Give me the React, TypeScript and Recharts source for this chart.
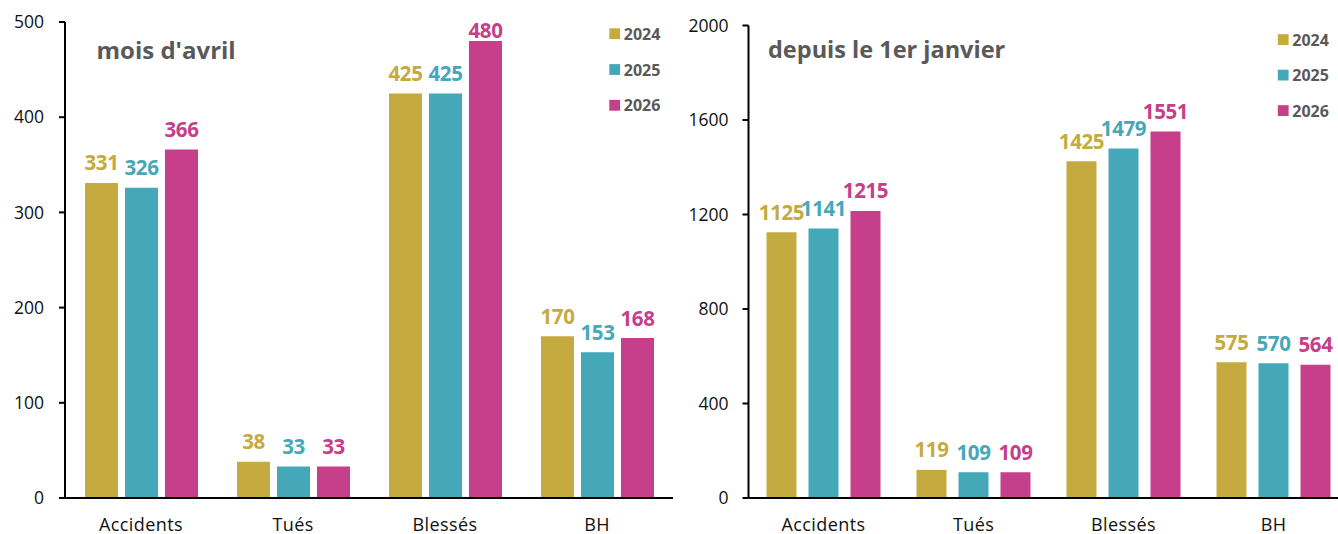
import React from 'react';
import { BarChart, Bar, XAxis, YAxis, LabelList } from 'recharts';

const categories = ['Accidents', 'Tués', 'Blessés', 'BH'];
const years = ['2024', '2025', '2026'];
const colors = ['#C5AB3F', '#45A8B9', '#C53F8B'];

const avril2024 = [331, 38, 425, 170];
const avril2025 = [326, 33, 425, 153];
const avril2026 = [366, 33, 480, 168];

const janvier2024 = [1125, 119, 1425, 575];
const janvier2025 = [1141, 109, 1479, 570];
const janvier2026 = [1215, 109, 1551, 564];

const leftTicks = [0, 100, 200, 300, 400, 500];
const rightTicks = [0, 400, 800, 1200, 1600, 2000];
const edgeTicks = [0, 1, 2, 3, 4];

const leftTitle = "mois d'avril";
const rightTitle = 'depuis le 1er janvier';

const FONT = '"Open Sans", sans-serif';
const GREY = '#595959';

const build = (a: number[], b: number[], c: number[]) =>
  categories.map((cat, i) => ({ cat, y2024: a[i], y2025: b[i], y2026: c[i] }));

const leftData = build(avril2024, avril2025, avril2026);
const rightData = build(janvier2024, janvier2025, janvier2026);

const makeLabel = (color: string, top: number) => (props: any) => {
  const { x, y, width, value } = props;
  const by = Math.max(Number(y) - 12.5, top + 16);
  return (
    <text
      x={Number(x) + Number(width) / 2}
      y={by}
      textAnchor="middle"
      fill={color}
      fontFamily={FONT}
      fontWeight={700}
      fontSize={20.5}
      letterSpacing={-0.4}
    >
      {value}
    </text>
  );
};

type PanelProps = {
  data: any[];
  width: number;
  height: number;
  top: number;
  yWidth: number;
  right: number;
  ticks: number[];
  catGap: number;
  barGap: number;
  tickMargin: number;
};

const Panel = ({ data, width, height, top, yWidth, right, ticks, catGap, barGap, tickMargin }: PanelProps) => (
  <BarChart
    width={width}
    height={height}
    data={data}
    margin={{ top, right, bottom: 0, left: 0 }}
    barCategoryGap={catGap}
    barGap={barGap}
  >
    <XAxis
      xAxisId="b_cat"
      dataKey="cat"
      height={35}
      axisLine={false}
      tickLine={false}
      tickSize={0}
      tickMargin={19.5}
      tick={{ fill: '#111', fontSize: 18, fontFamily: FONT, letterSpacing: 0.4 }}
      interval={0}
    />
    <XAxis
      xAxisId="a_edges"
      type="number"
      domain={[0, 4]}
      ticks={edgeTicks}
      allowDataOverflow
      height={1}
      tick={false}
      axisLine={{ stroke: '#000', strokeWidth: 2 }}
      tickLine={{ stroke: '#000', strokeWidth: 2 }}
      tickSize={6}
    />
    <YAxis
      width={yWidth}
      domain={[ticks[0], ticks[ticks.length - 1]]}
      ticks={ticks}
      axisLine={{ stroke: '#000', strokeWidth: 2 }}
      tickLine={{ stroke: '#000', strokeWidth: 2 }}
      tickSize={6}
      tickMargin={tickMargin}
      tick={{ fill: '#111', fontSize: 17.5, fontFamily: FONT }}
      allowDataOverflow
    />
    {years.map((yr, i) => (
      <Bar key={yr} xAxisId="b_cat" dataKey={'y' + yr} name={yr} fill={colors[i]} isAnimationActive={false}>
        <LabelList dataKey={'y' + yr} content={makeLabel(colors[i], top)} />
      </Bar>
    ))}
  </BarChart>
);

const Legend = ({ x, y0, step }: { x: number; y0: number; step: number }) => (
  <g>
    {years.map((yr, i) => (
      <g key={yr}>
        <rect x={x} y={y0 + i * step - 5.4} width={10.8} height={10.8} fill={colors[i]} />
        <text
          x={x + 14.5}
          y={y0 + i * step + 6}
          fill={GREY}
          fontFamily={FONT}
          fontWeight={700}
          fontSize={16}
        >
          {yr}
        </text>
      </g>
    ))}
  </g>
);

export default function App() {
  return (
    <div
      style={{
        position: 'absolute',
        left: 0,
        top: 0,
        width: 1338,
        height: 534,
        overflow: 'hidden',
        background: '#fff',
      }}
    >
      <div style={{ position: 'absolute', left: 0, top: 0 }}>
        <Panel
          data={leftData}
          width={680}
          height={534}
          top={22}
          yWidth={65}
          right={7}
          ticks={leftTicks}
          catGap={20}
          barGap={7}
          tickMargin={15}
        />
      </div>
      <div style={{ position: 'absolute', left: 680, top: 0 }}>
        <Panel
          data={rightData}
          width={668.5}
          height={534}
          top={25.5}
          yWidth={68.5}
          right={0}
          ticks={rightTicks}
          catGap={18}
          barGap={12}
          tickMargin={14}
        />
      </div>
      <svg
        width={1338}
        height={534}
        style={{ position: 'absolute', left: 0, top: 0, pointerEvents: 'none' }}
      >
        <text x={96.5} y={59} fill={GREY} fontFamily={FONT} fontWeight={700} fontSize={24}>
          {leftTitle}
        </text>
        <text x={768} y={57.5} fill={GREY} fontFamily={FONT} fontWeight={700} fontSize={23.5}>
          {rightTitle}
        </text>
        <Legend x={609.3} y0={33.7} step={35.8} />
        <Legend x={1277.8} y0={39.6} step={35.5} />
      </svg>
    </div>
  );
}
